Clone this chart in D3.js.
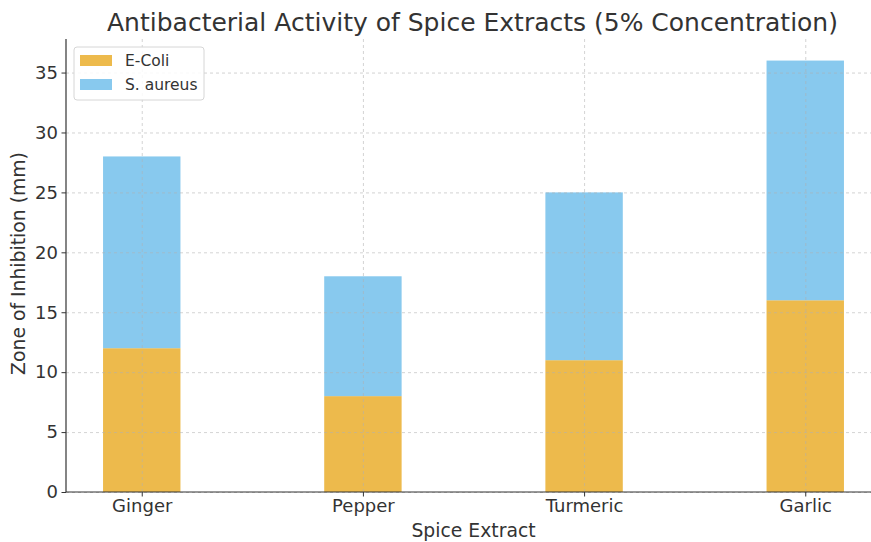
<!DOCTYPE html>
<html lang="en">
<head>
    <meta charset="UTF-8">
    <title>Antibacterial Activity</title>
    <style>
        body { margin: 0; background: #fff; }
        text { font-family: "DejaVu Sans", sans-serif; }
        .grid line { stroke: #b0b0b0; stroke-dasharray: 3,3; stroke-width: 0.8px; opacity: 0.7; }
        .grid path { display: none; }
    </style>
</head>
<body>
    <div id="chart"></div>
    <script src="https://d3js.org/d3.v7.min.js"></script>
    <script>
        // data
        var spices = ["Ginger", "Pepper", "Turmeric", "Garlic"];
        var eColi = [12, 8, 11, 16];
        var sAureus = [16, 10, 14, 20];
        var yTicks = [0, 5, 10, 15, 20, 25, 30, 35];
        var seriesNames = ["E-Coli", "S. aureus"];
        var colors = ["#edba4c", "#88c9ee"];

        var W = 871, H = 542;
        var margin = { top: 39, right: -10, bottom: 50, left: 66 };
        var width = W - margin.left - margin.right,
            height = H - margin.top - margin.bottom;

        var svg = d3.select("#chart").append("svg")
            .attr("width", W).attr("height", H);

        var g = svg.append("g")
            .attr("transform", "translate(" + margin.left + "," + margin.top + ")");

        // matplotlib-like scales: positions 0..3, bar width 0.35
        var barW = 0.35;
        var x = d3.scaleLinear()
            .domain([-barW / 2 - 0.05 * (3 + barW), 3 + barW / 2 + 0.05 * (3 + barW)])
            .range([0, width]);
        var ymax = d3.max(eColi.map(function (d, i) { return d + sAureus[i]; })) * 1.05;
        var y = d3.scaleLinear().domain([0, ymax]).range([height, 0]);

        // bars
        var stacks = [eColi, sAureus];
        stacks.forEach(function (vals, s) {
            g.selectAll(".bar" + s)
                .data(vals)
                .enter().append("rect")
                .attr("x", function (d, i) { return x(i - barW / 2); })
                .attr("width", x(barW) - x(0))
                .attr("y", function (d, i) {
                    var base = s === 0 ? 0 : eColi[i];
                    return y(base + d);
                })
                .attr("height", function (d) { return y(0) - y(d); })
                .attr("fill", colors[s]);
        });

        // grid over bars
        g.append("g").attr("class", "grid")
            .call(d3.axisLeft(y).tickValues(yTicks).tickSize(-width).tickFormat(""));
        g.append("g").attr("class", "grid")
            .call(d3.axisBottom(x).tickValues(d3.range(spices.length)).tickSize(height).tickFormat(""));

        // axes
        var yAxis = g.append("g")
            .call(d3.axisLeft(y).tickValues(yTicks).tickSize(4.5).tickPadding(3.5));
        var xAxis = g.append("g")
            .attr("transform", "translate(0," + height + ")")
            .call(d3.axisBottom(x).tickValues(d3.range(spices.length))
                .tickFormat(function (d) { return spices[d]; }).tickSize(4.5).tickPadding(3));
        [yAxis, xAxis].forEach(function (a) {
            a.select(".domain").attr("stroke", "#333").attr("stroke-width", 1.2);
            a.selectAll(".tick line").attr("stroke", "#333");
            a.selectAll("text").attr("font-size", 18).attr("fill", "#333")
                .style("font-family", "DejaVu Sans");
        });
        yAxis.select(".domain").attr("d", "M0," + height + "V0");
        xAxis.select(".domain").attr("d", "M0,0H" + width);

        // title and labels
        svg.append("text")
            .attr("x", margin.left + width / 2 - 1).attr("y", 31)
            .attr("text-anchor", "middle").attr("font-size", 25).attr("fill", "#333")
            .text("Antibacterial Activity of Spice Extracts (5% Concentration)");
        svg.append("text")
            .attr("x", margin.left + width / 2).attr("y", 537)
            .attr("text-anchor", "middle").attr("font-size", 18.8).attr("fill", "#333")
            .text("Spice Extract");
        svg.append("text")
            .attr("transform", "translate(25," + (margin.top + height / 2 - 2) + ") rotate(-90)")
            .attr("text-anchor", "middle").attr("font-size", 18.8).attr("fill", "#333")
            .text("Zone of Inhibition (mm)");

        // legend
        var lg = svg.append("g").attr("transform", "translate(74,47)");
        lg.append("rect").attr("width", 130).attr("height", 53).attr("rx", 3)
            .attr("fill", "#fff").attr("fill-opacity", 0.85)
            .attr("stroke", "#d6d6d6");
        seriesNames.forEach(function (n, i) {
            lg.append("rect").attr("x", 6).attr("y", 8 + i * 24)
                .attr("width", 32).attr("height", 11).attr("fill", colors[i]);
            lg.append("text").attr("x", 51).attr("y", 19 + i * 24)
                .attr("font-size", 15.5).attr("fill", "#333").text(n);
        });
    </script>
</body>
</html>
